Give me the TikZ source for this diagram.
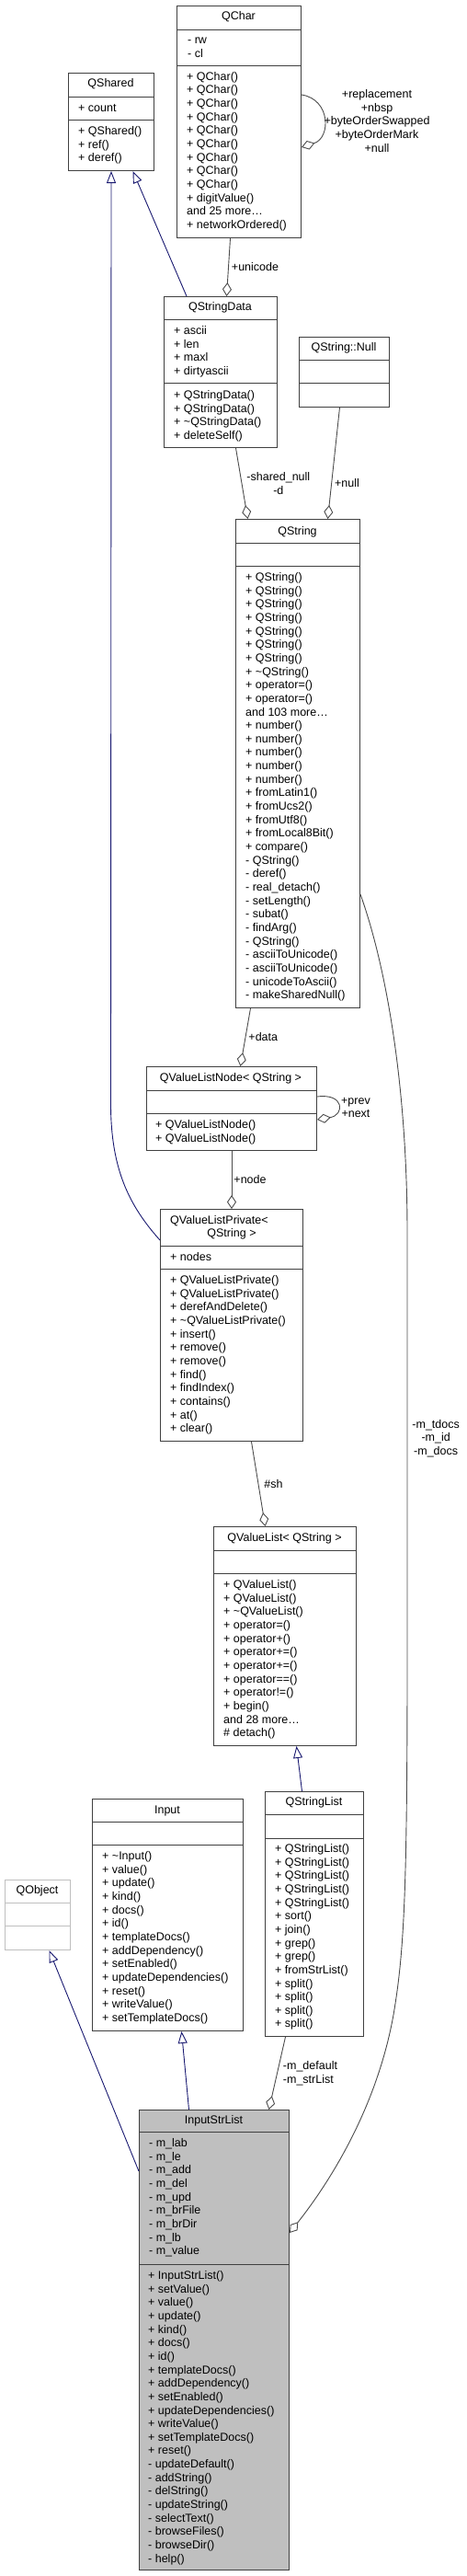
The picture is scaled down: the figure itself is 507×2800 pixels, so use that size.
\documentclass[tikz,border=0pt]{standalone}
\usepackage{fontspec}
\setmainfont{Liberation Sans}
\usetikzlibrary{arrows.meta}
\definecolor{midnight}{RGB}{25,25,112}

\begin{document}
\begin{tikzpicture}[x=1pt,y=-1pt,font=\fontsize{12.5}{14.65}\selectfont,
    box/.style={draw=black!75,line width=1pt,fill=white,inner sep=0pt,anchor=north west},
    sep/.style={draw=black!75,line width=1pt},
    member/.style={anchor=base west,inner sep=0pt},
    title/.style={anchor=base,inner sep=0pt},
    lbl/.style={inner sep=0pt},
    inherit/.style={draw=midnight,line width=0.9pt,-{Triangle[open,length=13pt,width=10pt,fill=white]}},
    aggr/.style={draw=black!70,line width=0.9pt,-{Diamond[open,length=15pt,width=10pt,fill=white]}}]

    \useasboundingbox (0,0) rectangle (507,2800);

    % QChar
    \node[box,minimum width=135pt,minimum height=252pt] (qchar) at (192,6) {};
    \draw[sep] (qchar.west |- 0,32) -- (qchar.east |- 0,32) (qchar.west |- 0,71) -- (qchar.east |- 0,71);
    \node[title] (qchar-t) at (259.5,21.8) {QChar};
    \foreach \m [count=\i from 0] in {- rw,- cl}
        \node[member] (qchar-a\i) at (204,47.5+14.65*\i) {\m};
    \foreach \m [count=\i from 0] in {+ QChar(),+ QChar(),+ QChar(),+ QChar(),+ QChar(),+ QChar(),
        + QChar(),+ QChar(),+ QChar(),+ digitValue(),and 25 more\ldots,+ networkOrdered()}
        \node[member] (qchar-m\i) at (203,87.2+14.65*\i) {\m};

    % QShared
    \node[box,minimum width=93pt,minimum height=106pt] (qshared) at (74,79) {};
    \draw[sep] (qshared.west |- 0,105) -- (qshared.east |- 0,105) (qshared.west |- 0,130) -- (qshared.east |- 0,130);
    \node[title] (qshared-t) at (120.5,94.5) {QShared};
    \node[member] (qshared-a0) at (85,121.5) {+ count};
    \foreach \m [count=\i from 0] in {+ QShared(),+ ref(),+ deref()}
        \node[member] (qshared-m\i) at (85,146.5+14.65*\i) {\m};

    % QStringData
    \node[box,minimum width=123pt,minimum height=164pt] (qstringdata) at (178,322) {};
    \draw[sep] (qstringdata.west |- 0,347) -- (qstringdata.east |- 0,347) (qstringdata.west |- 0,416) -- (qstringdata.east |- 0,416);
    \node[title] (qstringdata-t) at (239.5,337.8) {QStringData};
    \foreach \m [count=\i from 0] in {+ ascii,+ len,+ maxl,+ dirtyascii}
        \node[member] (qstringdata-a\i) at (189,363.5+14.65*\i) {\m};
    \foreach \m [count=\i from 0] in {+ QStringData(),+ QStringData(),+ \textasciitilde QStringData(),+ deleteSelf()}
        \node[member] (qstringdata-m\i) at (189,433.5+14.65*\i) {\m};

    % QString::Null
    \node[box,minimum width=98pt,minimum height=76pt] (qnull) at (325,366) {};
    \draw[sep] (qnull.west |- 0,391) -- (qnull.east |- 0,391) (qnull.west |- 0,416) -- (qnull.east |- 0,416);
    \node[title] (qnull-t) at (374,381.8) {QString::Null};

    % QString
    \node[box,minimum width=135pt,minimum height=531pt] (qstring) at (256,564) {};
    \draw[sep] (qstring.west |- 0,590) -- (qstring.east |- 0,590) (qstring.west |- 0,615) -- (qstring.east |- 0,615);
    \node[title] (qstring-t) at (323.5,581.2) {QString};
    \foreach \m [count=\i from 0] in {+ QString(),+ QString(),+ QString(),+ QString(),+ QString(),+ QString(),
        + QString(),+ \textasciitilde QString(),+ operator=(),+ operator=(),and 103 more\ldots,
        + number(),+ number(),+ number(),+ number(),+ number(),+ fromLatin1(),+ fromUcs2(),
        + fromUtf8(),+ fromLocal8Bit(),+ compare(),- QString(),- deref(),- real\_detach(),
        - setLength(),- subat(),- findArg(),- QString(),- asciiToUnicode(),- asciiToUnicode(),
        - unicodeToAscii(),- makeSharedNull()}
        \node[member] (qstring-m\i) at (267,631.5+14.65*\i) {\m};

    % QValueListNode< QString >
    \node[box,minimum width=185pt,minimum height=91pt] (qvln) at (159,1159) {};
    \draw[sep] (qvln.west |- 0,1185) -- (qvln.east |- 0,1185) (qvln.west |- 0,1210) -- (qvln.east |- 0,1210);
    \node[title] (qvln-t) at (251,1175.2) {QValueListNode< QString >};
    \foreach \m [count=\i from 0] in {+ QValueListNode(),+ QValueListNode()}
        \node[member] (qvln-m\i) at (169,1226.5+14.65*\i) {\m};

    % QValueListPrivate< QString >
    \node[box,minimum width=155pt,minimum height=252pt] (qvlprivate) at (174,1314) {};
    \draw[sep] (qvlprivate.west |- 0,1354) -- (qvlprivate.east |- 0,1354) (qvlprivate.west |- 0,1379) -- (qvlprivate.east |- 0,1379);
    \node[member] (qvlprivate-t1) at (185,1330.2) {QValueListPrivate<};
    \node[title] (qvlprivate-t2) at (252,1344.5) {QString >};
    \node[member] (qvlprivate-a0) at (185,1370.5) {+ nodes};
    \foreach \m [count=\i from 0] in {+ QValueListPrivate(),+ QValueListPrivate(),+ derefAndDelete(),
        + \textasciitilde QValueListPrivate(),+ insert(),+ remove(),+ remove(),+ find(),+ findIndex(),
        + contains(),+ at(),+ clear()}
        \node[member] (qvlprivate-m\i) at (185,1395.5+14.65*\i) {\m};

    % QValueList< QString >
    \node[box,minimum width=155pt,minimum height=238pt] (qvaluelist) at (232,1659) {};
    \draw[sep] (qvaluelist.west |- 0,1685) -- (qvaluelist.east |- 0,1685) (qvaluelist.west |- 0,1710) -- (qvaluelist.east |- 0,1710);
    \node[title] (qvaluelist-t) at (309.5,1675.2) {QValueList< QString >};
    \foreach \m [count=\i from 0] in {+ QValueList(),+ QValueList(),+ \textasciitilde QValueList(),
        + operator=(),+ operator+(),+ operator+=(),+ operator+=(),+ operator==(),+ operator!=(),
        + begin(),and 28 more\ldots,\# detach()}
        \node[member] (qvaluelist-m\i) at (243,1726.5+14.65*\i) {\m};

    % QStringList
    \node[box,minimum width=107pt,minimum height=266pt] (qstringlist) at (288,1947) {};
    \draw[sep] (qstringlist.west |- 0,1972) -- (qstringlist.east |- 0,1972) (qstringlist.west |- 0,1998) -- (qstringlist.east |- 0,1998);
    \node[title] (qstringlist-t) at (341.5,1962.8) {QStringList};
    \foreach \m [count=\i from 0] in {+ QStringList(),+ QStringList(),+ QStringList(),+ QStringList(),
        + QStringList(),+ sort(),+ join(),+ grep(),+ grep(),+ fromStrList(),+ split(),+ split(),
        + split(),+ split()}
        \node[member] (qstringlist-m\i) at (299,2013.5+14.65*\i) {\m};

    % Input
    \node[box,minimum width=164pt,minimum height=252pt] (input) at (100,1955) {};
    \draw[sep] (input.west |- 0,1980) -- (input.east |- 0,1980) (input.west |- 0,2005) -- (input.east |- 0,2005);
    \node[title] (input-t) at (182,1971.2) {Input};
    \foreach \m [count=\i from 0] in {+ \textasciitilde Input(),+ value(),+ update(),+ kind(),+ docs(),
        + id(),+ templateDocs(),+ addDependency(),+ setEnabled(),+ updateDependencies(),+ reset(),
        + writeValue(),+ setTemplateDocs()}
        \node[member] (input-m\i) at (111,2021.5+14.65*\i) {\m};

    % QObject
    \node[box,draw=black!25,minimum width=71pt,minimum height=76pt] (qobject) at (5,2043) {};
    \draw[sep,black!25] (qobject.west |- 0,2068) -- (qobject.east |- 0,2068) (qobject.west |- 0,2093) -- (qobject.east |- 0,2093);
    \node[title] (qobject-t) at (40.5,2058.8) {QObject};

    % InputStrList
    \node[box,fill=black!25,minimum width=163pt,minimum height=500pt] (isl) at (151,2293) {};
    \draw[sep] (isl.west |- 0,2317) -- (isl.east |- 0,2317) (isl.west |- 0,2461) -- (isl.east |- 0,2461);
    \node[title] (isl-t) at (232.5,2308.8) {InputStrList};
    \foreach \m [count=\i from 0] in {- m\_lab,- m\_le,- m\_add,- m\_del,- m\_upd,- m\_brFile,
        - m\_brDir,- m\_lb,- m\_value}
        \node[member] (isl-a\i) at (162,2333.5+14.65*\i) {\m};
    \foreach \m [count=\i from 0] in {+ InputStrList(),+ setValue(),+ value(),+ update(),+ kind(),
        + docs(),+ id(),+ templateDocs(),+ addDependency(),+ setEnabled(),+ updateDependencies(),
        + writeValue(),+ setTemplateDocs(),+ reset(),- updateDefault(),- addString(),- delString(),
        - updateString(),- selectText(),- browseFiles(),- browseDir(),- help()}
        \node[member] (isl-m\i) at (161,2477.5+14.65*\i) {\m};

    % inheritance
    \draw[inherit] ([xshift=25pt]qstringdata.north west) -- ([xshift=23.5pt]qshared.south);
    \draw[inherit] ([yshift=-34pt]qvlprivate.north west) .. controls (140,1310) and (120.5,1270) .. (120.5,1200) -- (qshared.south);
    \draw[inherit] ([xshift=-13.5pt]qstringlist.north) -- ([xshift=12.5pt]qvaluelist.south);
    \draw[inherit] ([xshift=-27.5pt]isl.north) -- ([xshift=15pt]input.south);
    \draw[inherit] ([yshift=-67pt]isl.north west) -- ([xshift=12.5pt]qobject.south);

    % members
    \draw[aggr] ([xshift=-9.5pt]qchar.south) -- node[lbl,right=3pt] (lbl-unicode) {+unicode} ([xshift=6.5pt]qstringdata.north);
    \draw[aggr] ([xshift=16.5pt]qstringdata.south) -- node[lbl,right=5pt,align=center] (lbl-d) {-shared\_null\\-d} ([xshift=-54.5pt]qstring.north);
    \draw[aggr] ([xshift=-5pt]qnull.south) -- node[lbl,pos=0.68,right=3pt] (lbl-null) {+null} ([xshift=32.5pt]qstring.north);
    \draw[aggr] ([xshift=-51.5pt]qstring.south) -- node[lbl,right=3pt] (lbl-data) {+data} ([xshift=9.5pt]qvln.north);
    \draw[aggr] (qvln.south) -- node[lbl,right=2pt] (lbl-node) {+node} (qvlprivate.north);
    \draw[aggr] ([xshift=21.5pt]qvlprivate.south) -- node[lbl,right=6pt] (lbl-sh) {\#sh} ([xshift=-21.5pt]qvaluelist.north);
    \draw[aggr] ([xshift=-31.5pt]qstringlist.south) -- node[lbl,right=6pt,align=left] (lbl-strlist) {-m\_default\\-m\_strList} ([xshift=59.5pt]isl.north);
    \draw[aggr] ([yshift=-408pt]qstring.north east) .. controls (420,1050) and (443,1180) .. (443,1340)
        -- node[lbl,pos=0.486,right=5pt,align=center] (lbl-docs) {-m\_tdocs\\-m\_id\\-m\_docs} (443,1800)
        .. controls (443,2050) and (440,2120) .. (428,2190)
        .. controls (410,2290) and (360,2370) .. ([yshift=-134pt]isl.north east);

    % self loops
    \draw[aggr] ([yshift=-97pt]qchar.north east) .. controls (360,108) and (360,150) .. ([yshift=-154pt]qchar.north east);
    \node[lbl,align=center] (lbl-qchar) at (410,131.5) {+replacement\\+nbsp\\+byteOrderSwapped\\+byteOrderMark\\+null};
    \draw[aggr] ([yshift=-33pt]qvln.north east) .. controls (375,1188) and (375,1212) .. ([yshift=-58pt]qvln.north east);
    \node[lbl,align=center] (lbl-prev) at (387,1204) {+prev\\+next};

\end{tikzpicture}
\end{document}
